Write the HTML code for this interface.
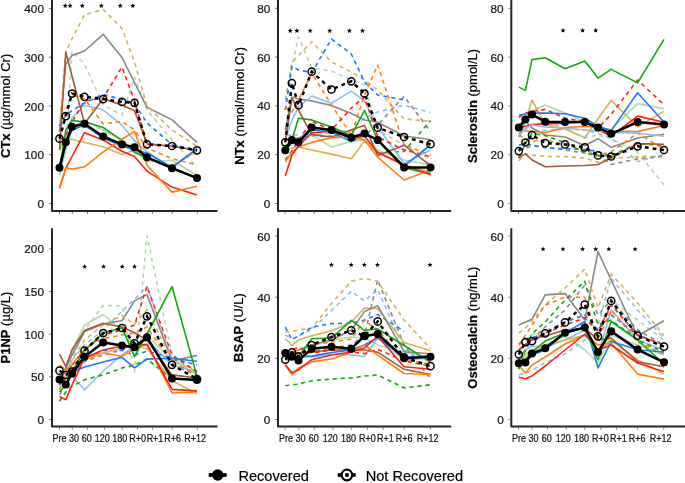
<!DOCTYPE html><html><head><meta charset="utf-8"><style>html,body{margin:0;padding:0;background:#fff;}svg{display:block;will-change:transform;}text{font-family:"Liberation Sans",sans-serif;stroke:currentColor;stroke-width:0.2px;}</style></head><body>
<svg width="685" height="483" viewBox="0 0 685 483">
<rect width="685" height="483" fill="#fff"/>
<path d="M52,0 L52,211 L217.5,211" fill="none" stroke="#262626" stroke-width="2" stroke-linejoin="round"/>
<line x1="49" y1="203.5" x2="51" y2="203.5" stroke="#555" stroke-width="0.8"/>
<text x="44" y="208.0" font-size="11.8" text-anchor="end" fill="#111" color="#111">0</text>
<line x1="49" y1="154.7" x2="51" y2="154.7" stroke="#555" stroke-width="0.8"/>
<text x="44" y="159.2" font-size="11.8" text-anchor="end" fill="#111" color="#111">100</text>
<line x1="49" y1="106.0" x2="51" y2="106.0" stroke="#555" stroke-width="0.8"/>
<text x="44" y="110.5" font-size="11.8" text-anchor="end" fill="#111" color="#111">200</text>
<line x1="49" y1="57.2" x2="51" y2="57.2" stroke="#555" stroke-width="0.8"/>
<text x="44" y="61.7" font-size="11.8" text-anchor="end" fill="#111" color="#111">300</text>
<line x1="49" y1="8.4" x2="51" y2="8.4" stroke="#555" stroke-width="0.8"/>
<text x="44" y="12.9" font-size="11.8" text-anchor="end" fill="#111" color="#111">400</text>
<line x1="59.5" y1="212" x2="59.5" y2="214" stroke="#555" stroke-width="0.8"/>
<line x1="72.3" y1="212" x2="72.3" y2="214" stroke="#555" stroke-width="0.8"/>
<line x1="87.5" y1="212" x2="87.5" y2="214" stroke="#555" stroke-width="0.8"/>
<line x1="104.6" y1="212" x2="104.6" y2="214" stroke="#555" stroke-width="0.8"/>
<line x1="122.2" y1="212" x2="122.2" y2="214" stroke="#555" stroke-width="0.8"/>
<line x1="137.5" y1="212" x2="137.5" y2="214" stroke="#555" stroke-width="0.8"/>
<line x1="152.4" y1="212" x2="152.4" y2="214" stroke="#555" stroke-width="0.8"/>
<line x1="172.3" y1="212" x2="172.3" y2="214" stroke="#555" stroke-width="0.8"/>
<line x1="197.4" y1="212" x2="197.4" y2="214" stroke="#555" stroke-width="0.8"/>
<text transform="translate(10.0,105.9) rotate(-90)" font-size="13" text-anchor="middle" fill="#000" color="#000"><tspan font-weight="bold">CTx</tspan> (µg/mmol Cr)</text>
<polyline points="59.5,175.0 65.8,145.0 72.0,51.0 84.5,64.0 103.2,105.0 122.0,115.0 134.5,77.0 147.0,110.0 172.0,140.0 197.0,167.0" fill="none" stroke="#b2d8ac" stroke-width="1.6" stroke-dasharray="4.2 3.8" stroke-linejoin="round"/>
<polyline points="59.5,175.0 65.8,150.0 72.0,128.0 84.5,120.0 103.2,130.0 122.0,140.0 134.5,150.0 147.0,161.7 172.0,160.3 197.0,175.5" fill="none" stroke="#b2d8ac" stroke-width="1.6" stroke-linejoin="round"/>
<polyline points="59.5,150.0 65.8,135.0 72.0,118.0 84.5,105.3 103.2,110.0 122.0,125.2 134.5,140.7 147.0,152.0 172.0,168.0 197.0,178.0" fill="none" stroke="#8cc0ec" stroke-width="1.6" stroke-linejoin="round"/>
<polyline points="59.5,150.0 65.8,138.2 72.0,139.5 84.5,142.5 103.2,146.8 122.0,154.5 134.5,150.0 147.0,158.0 172.0,166.0 197.0,151.0" fill="none" stroke="#d6b450" stroke-width="1.6" stroke-linejoin="round"/>
<polyline points="59.5,132.0 65.8,64.0 72.0,55.5 84.5,51.0 103.2,34.3 122.0,57.5 134.5,82.6 147.0,107.3 172.0,119.9 197.0,142.4" fill="none" stroke="#888888" stroke-width="1.6" stroke-linejoin="round"/>
<polyline points="59.5,127.0 65.8,51.7 72.0,39.0 84.5,14.7 103.2,9.5 122.0,28.5 134.5,62.0 147.0,106.0 172.0,130.0 197.0,146.3" fill="none" stroke="#d6b450" stroke-width="1.6" stroke-dasharray="4.2 3.8" stroke-linejoin="round"/>
<polyline points="59.5,150.0 65.8,52.1 72.0,76.0 84.5,123.5 103.2,98.8 122.0,105.0 134.5,110.7 147.0,143.8 172.0,146.3 197.0,150.2" fill="none" stroke="#a55a32" stroke-width="1.6" stroke-linejoin="round"/>
<polyline points="59.5,140.0 65.8,135.0 72.0,122.0 84.5,101.0 103.2,98.0 122.0,67.0 134.5,101.0 147.0,144.5 172.0,146.5 197.0,150.5" fill="none" stroke="#ff2010" stroke-width="1.6" stroke-dasharray="4.2 3.8" stroke-linejoin="round"/>
<polyline points="59.5,126.0 65.8,115.0 72.0,110.7 84.5,103.0 103.2,94.4 122.0,99.5 134.5,103.4 147.0,123.0 172.0,144.7 197.0,150.0" fill="none" stroke="#1a7aff" stroke-width="1.6" stroke-dasharray="4.2 3.8" stroke-linejoin="round"/>
<polyline points="59.5,140.0 65.8,110.0 72.0,95.0 84.5,98.7 103.2,123.8 122.0,121.5 134.5,130.0 147.0,148.0 172.0,158.7 197.0,165.0" fill="none" stroke="#ff8010" stroke-width="1.6" stroke-dasharray="4.2 3.8" stroke-linejoin="round"/>
<polyline points="59.5,170.0 65.8,130.0 72.0,120.6 84.5,121.7 103.2,127.5 122.0,140.3 134.5,152.3 147.0,158.0 172.0,168.0 197.0,178.0" fill="none" stroke="#10aa10" stroke-width="1.6" stroke-linejoin="round"/>
<polyline points="59.5,170.0 65.8,145.0 72.0,130.0 84.5,125.0 103.2,138.0 122.0,146.0 134.5,150.0 147.0,153.0 172.0,167.5 197.0,148.7" fill="none" stroke="#1a7aff" stroke-width="1.6" stroke-linejoin="round"/>
<polyline points="59.5,188.0 65.8,168.4 72.0,156.5 84.5,132.7 103.2,140.0 122.0,151.2 134.5,156.6 147.0,171.1 172.0,187.1 197.0,195.0" fill="none" stroke="#ff2010" stroke-width="1.6" stroke-linejoin="round"/>
<polyline points="59.5,188.5 65.8,167.6 72.0,169.1 84.5,166.8 103.2,151.8 122.0,139.2 134.5,131.4 147.0,165.3 172.0,192.1 197.0,186.3" fill="none" stroke="#ff8010" stroke-width="1.6" stroke-linejoin="round"/>
<polyline points="59.5,138.7 65.8,116.2 72.0,93.6 84.5,96.8 103.2,99.1 122.0,101.9 134.5,102.8 147.0,144.3 172.0,146.0 197.0,150.3" fill="none" stroke="#000" stroke-width="2.5" stroke-dasharray="3.8 4"/>
<polyline points="59.5,167.7 65.8,142.2 72.0,126.8 84.5,123.8 103.2,136.5 122.0,144.4 134.5,147.2 147.0,157.3 172.0,168.2 197.0,178.1" fill="none" stroke="#000" stroke-width="2.5" stroke-linejoin="round"/>
<circle cx="59.5" cy="138.7" r="3.6" fill="none" stroke="#000" stroke-width="1.5"/>
<circle cx="65.8" cy="116.2" r="3.6" fill="none" stroke="#000" stroke-width="1.5"/>
<circle cx="72.0" cy="93.6" r="3.6" fill="none" stroke="#000" stroke-width="1.5"/>
<circle cx="84.5" cy="96.8" r="3.6" fill="none" stroke="#000" stroke-width="1.5"/>
<circle cx="103.2" cy="99.1" r="3.6" fill="none" stroke="#000" stroke-width="1.5"/>
<circle cx="122.0" cy="101.9" r="3.6" fill="none" stroke="#000" stroke-width="1.5"/>
<circle cx="134.5" cy="102.8" r="3.6" fill="none" stroke="#000" stroke-width="1.5"/>
<circle cx="147.0" cy="144.3" r="3.6" fill="none" stroke="#000" stroke-width="1.5"/>
<circle cx="172.0" cy="146.0" r="3.6" fill="none" stroke="#000" stroke-width="1.5"/>
<circle cx="197.0" cy="150.3" r="3.6" fill="none" stroke="#000" stroke-width="1.5"/>
<circle cx="59.5" cy="167.7" r="4.0" fill="#000"/>
<circle cx="65.8" cy="142.2" r="4.0" fill="#000"/>
<circle cx="72.0" cy="126.8" r="4.0" fill="#000"/>
<circle cx="84.5" cy="123.8" r="4.0" fill="#000"/>
<circle cx="103.2" cy="136.5" r="4.0" fill="#000"/>
<circle cx="122.0" cy="144.4" r="4.0" fill="#000"/>
<circle cx="134.5" cy="147.2" r="4.0" fill="#000"/>
<circle cx="147.0" cy="157.3" r="4.0" fill="#000"/>
<circle cx="172.0" cy="168.2" r="4.0" fill="#000"/>
<circle cx="197.0" cy="178.1" r="4.0" fill="#000"/>
<polygon points="65.20,3.20 65.88,4.87 67.67,5.00 66.29,6.16 66.73,7.90 65.20,6.95 63.67,7.90 64.11,6.16 62.73,5.00 64.52,4.87" fill="#000"/>
<polygon points="70.10,3.20 70.78,4.87 72.57,5.00 71.19,6.16 71.63,7.90 70.10,6.95 68.57,7.90 69.01,6.16 67.63,5.00 69.42,4.87" fill="#000"/>
<polygon points="82.30,3.20 82.98,4.87 84.77,5.00 83.39,6.16 83.83,7.90 82.30,6.95 80.77,7.90 81.21,6.16 79.83,5.00 81.62,4.87" fill="#000"/>
<polygon points="101.30,3.20 101.98,4.87 103.77,5.00 102.39,6.16 102.83,7.90 101.30,6.95 99.77,7.90 100.21,6.16 98.83,5.00 100.62,4.87" fill="#000"/>
<polygon points="120.30,3.20 120.98,4.87 122.77,5.00 121.39,6.16 121.83,7.90 120.30,6.95 118.77,7.90 119.21,6.16 117.83,5.00 119.62,4.87" fill="#000"/>
<polygon points="132.80,3.20 133.48,4.87 135.27,5.00 133.89,6.16 134.33,7.90 132.80,6.95 131.27,7.90 131.71,6.16 130.33,5.00 132.12,4.87" fill="#000"/>
<path d="M278,0 L278,211 L451.2,211" fill="none" stroke="#262626" stroke-width="2" stroke-linejoin="round"/>
<line x1="275" y1="203.5" x2="277" y2="203.5" stroke="#555" stroke-width="0.8"/>
<text x="270.3" y="208.0" font-size="11.8" text-anchor="end" fill="#111" color="#111">0</text>
<line x1="275" y1="154.7" x2="277" y2="154.7" stroke="#555" stroke-width="0.8"/>
<text x="270.3" y="159.2" font-size="11.8" text-anchor="end" fill="#111" color="#111">20</text>
<line x1="275" y1="105.9" x2="277" y2="105.9" stroke="#555" stroke-width="0.8"/>
<text x="270.3" y="110.4" font-size="11.8" text-anchor="end" fill="#111" color="#111">40</text>
<line x1="275" y1="57.1" x2="277" y2="57.1" stroke="#555" stroke-width="0.8"/>
<text x="270.3" y="61.6" font-size="11.8" text-anchor="end" fill="#111" color="#111">60</text>
<line x1="275" y1="8.3" x2="277" y2="8.3" stroke="#555" stroke-width="0.8"/>
<text x="270.3" y="12.8" font-size="11.8" text-anchor="end" fill="#111" color="#111">80</text>
<line x1="285.2" y1="212" x2="285.2" y2="214" stroke="#555" stroke-width="0.8"/>
<line x1="298.9" y1="212" x2="298.9" y2="214" stroke="#555" stroke-width="0.8"/>
<line x1="314.3" y1="212" x2="314.3" y2="214" stroke="#555" stroke-width="0.8"/>
<line x1="333.0" y1="212" x2="333.0" y2="214" stroke="#555" stroke-width="0.8"/>
<line x1="351.4" y1="212" x2="351.4" y2="214" stroke="#555" stroke-width="0.8"/>
<line x1="367.5" y1="212" x2="367.5" y2="214" stroke="#555" stroke-width="0.8"/>
<line x1="383.2" y1="212" x2="383.2" y2="214" stroke="#555" stroke-width="0.8"/>
<line x1="404.3" y1="212" x2="404.3" y2="214" stroke="#555" stroke-width="0.8"/>
<line x1="430.4" y1="212" x2="430.4" y2="214" stroke="#555" stroke-width="0.8"/>
<text transform="translate(243.5,105.9) rotate(-90)" font-size="13" text-anchor="middle" fill="#000" color="#000"><tspan font-weight="bold">NTx</tspan> (nmol/mmol Cr)</text>
<polyline points="285.3,110.0 291.9,66.0 298.5,37.0 311.7,68.0 331.5,71.0 351.3,80.0 364.5,85.0 377.7,130.0 404.1,145.0 430.5,160.0" fill="none" stroke="#b2d8ac" stroke-width="1.6" stroke-dasharray="4.2 3.8" stroke-linejoin="round"/>
<polyline points="285.3,135.0 291.9,135.0 298.5,135.0 311.7,135.0 331.5,133.0 351.3,130.0 364.5,118.0 377.7,112.0 404.1,105.2 430.5,112.6" fill="none" stroke="#8cc0ec" stroke-width="1.6" stroke-dasharray="4.2 3.8" stroke-linejoin="round"/>
<polyline points="285.3,128.0 291.9,138.0 298.5,138.0 311.7,136.0 331.5,136.0 351.3,136.0 364.5,135.0 377.7,125.0 404.1,96.4 430.5,131.5" fill="none" stroke="#888888" stroke-width="1.6" stroke-dasharray="4.2 3.8" stroke-linejoin="round"/>
<polyline points="285.3,150.0 291.9,140.0 298.5,142.0 311.7,128.0 331.5,130.0 351.3,137.0 364.5,140.0 377.7,153.0 404.1,151.4 430.5,120.6" fill="none" stroke="#10aa10" stroke-width="1.6" stroke-dasharray="4.2 3.8" stroke-linejoin="round"/>
<polyline points="285.3,148.0 291.9,145.0 298.5,142.0 311.7,134.6 331.5,147.1 351.3,141.6 364.5,140.0 377.7,150.0 404.1,160.0 430.5,165.0" fill="none" stroke="#b2d8ac" stroke-width="1.6" stroke-linejoin="round"/>
<polyline points="285.3,150.0 291.9,148.0 298.5,147.0 311.7,150.0 331.5,154.1 351.3,158.7 364.5,140.9 377.7,152.0 404.1,165.0 430.5,172.0" fill="none" stroke="#d6b450" stroke-width="1.6" stroke-linejoin="round"/>
<polyline points="285.3,130.0 291.9,97.0 298.5,98.9 311.7,101.0 331.5,105.4 351.3,113.5 364.5,120.0 377.7,122.2 404.1,136.0 430.5,139.5" fill="none" stroke="#888888" stroke-width="1.6" stroke-linejoin="round"/>
<polyline points="285.3,140.0 291.9,120.0 298.5,107.0 311.7,96.0 331.5,103.2 351.3,91.1 364.5,101.0 377.7,127.0 404.1,163.4 430.5,150.0" fill="none" stroke="#8cc0ec" stroke-width="1.6" stroke-linejoin="round"/>
<polyline points="285.3,100.0 291.9,62.6 298.5,55.6 311.7,41.7 331.5,62.0 351.3,72.0 364.5,80.0 377.7,90.0 404.1,119.0 430.5,121.3" fill="none" stroke="#d6b450" stroke-width="1.6" stroke-dasharray="4.2 3.8" stroke-linejoin="round"/>
<polyline points="285.3,110.0 291.9,66.5 298.5,70.0 311.7,72.7 331.5,39.0 351.3,54.0 364.5,82.0 377.7,95.0 404.1,100.0" fill="none" stroke="#1a7aff" stroke-width="1.6" stroke-dasharray="4.2 3.8" stroke-linejoin="round"/>
<polyline points="285.3,107.0 291.9,112.0 298.5,100.0 311.7,73.0 331.5,105.0 351.3,135.0 364.5,95.0 377.7,65.0 404.1,145.0 430.5,155.0" fill="none" stroke="#ff8010" stroke-width="1.6" stroke-dasharray="4.2 3.8" stroke-linejoin="round"/>
<polyline points="285.3,160.0 291.9,151.0 298.5,140.0 311.7,121.4 331.5,130.0 351.3,108.0 364.5,97.0 377.7,137.0 404.1,150.0 430.5,156.6" fill="none" stroke="#ff2010" stroke-width="1.6" stroke-dasharray="4.2 3.8" stroke-linejoin="round"/>
<polyline points="285.3,141.6 291.9,98.1 298.5,110.0 311.7,134.6 331.5,137.0 351.3,130.0 364.5,125.3 377.7,155.6 404.1,145.2 430.5,165.7" fill="none" stroke="#a55a32" stroke-width="1.6" stroke-linejoin="round"/>
<polyline points="285.3,146.0 291.9,140.0 298.5,118.3 311.7,119.9 331.5,126.9 351.3,135.4 364.5,110.5 377.7,140.0 404.1,168.0 430.5,173.6" fill="none" stroke="#10aa10" stroke-width="1.6" stroke-linejoin="round"/>
<polyline points="285.3,150.0 291.9,142.0 298.5,144.0 311.7,130.0 331.5,132.0 351.3,141.6 364.5,135.0 377.7,140.0 404.1,166.0 430.5,145.0" fill="none" stroke="#1a7aff" stroke-width="1.6" stroke-linejoin="round"/>
<polyline points="285.3,161.8 291.9,152.5 298.5,147.0 311.7,142.4 331.5,137.7 351.3,137.0 364.5,140.0 377.7,157.2 404.1,180.0 430.5,170.0" fill="none" stroke="#ff8010" stroke-width="1.6" stroke-linejoin="round"/>
<polyline points="285.3,176.0 291.9,155.0 298.5,146.0 311.7,133.0 331.5,131.0 351.3,138.0 364.5,136.0 377.7,152.5 404.1,165.0 430.5,174.8" fill="none" stroke="#ff2010" stroke-width="1.6" stroke-linejoin="round"/>
<polyline points="285.3,142.3 291.9,83.1 298.5,105.2 311.7,71.7 331.5,89.5 351.3,81.3 364.5,93.5 377.7,127.7 404.1,137.0 430.5,144.2" fill="none" stroke="#000" stroke-width="2.5" stroke-dasharray="3.8 4"/>
<polyline points="285.3,150.3 291.9,140.0 298.5,142.3 311.7,127.5 331.5,130.0 351.3,137.5 364.5,133.5 377.7,139.9 404.1,167.4 430.5,167.4" fill="none" stroke="#000" stroke-width="2.5" stroke-linejoin="round"/>
<circle cx="285.3" cy="142.3" r="3.6" fill="none" stroke="#000" stroke-width="1.5"/>
<circle cx="291.9" cy="83.1" r="3.6" fill="none" stroke="#000" stroke-width="1.5"/>
<circle cx="298.5" cy="105.2" r="3.6" fill="none" stroke="#000" stroke-width="1.5"/>
<circle cx="311.7" cy="71.7" r="3.6" fill="none" stroke="#000" stroke-width="1.5"/>
<circle cx="331.5" cy="89.5" r="3.6" fill="none" stroke="#000" stroke-width="1.5"/>
<circle cx="351.3" cy="81.3" r="3.6" fill="none" stroke="#000" stroke-width="1.5"/>
<circle cx="364.5" cy="93.5" r="3.6" fill="none" stroke="#000" stroke-width="1.5"/>
<circle cx="377.7" cy="127.7" r="3.6" fill="none" stroke="#000" stroke-width="1.5"/>
<circle cx="404.1" cy="137.0" r="3.6" fill="none" stroke="#000" stroke-width="1.5"/>
<circle cx="430.5" cy="144.2" r="3.6" fill="none" stroke="#000" stroke-width="1.5"/>
<circle cx="285.3" cy="150.3" r="4.0" fill="#000"/>
<circle cx="291.9" cy="140.0" r="4.0" fill="#000"/>
<circle cx="298.5" cy="142.3" r="4.0" fill="#000"/>
<circle cx="311.7" cy="127.5" r="4.0" fill="#000"/>
<circle cx="331.5" cy="130.0" r="4.0" fill="#000"/>
<circle cx="351.3" cy="137.5" r="4.0" fill="#000"/>
<circle cx="364.5" cy="133.5" r="4.0" fill="#000"/>
<circle cx="377.7" cy="139.9" r="4.0" fill="#000"/>
<circle cx="404.1" cy="167.4" r="4.0" fill="#000"/>
<circle cx="430.5" cy="167.4" r="4.0" fill="#000"/>
<polygon points="290.20,28.20 290.88,29.87 292.67,30.00 291.29,31.16 291.73,32.90 290.20,31.95 288.67,32.90 289.11,31.16 287.73,30.00 289.52,29.87" fill="#000"/>
<polygon points="296.80,28.20 297.48,29.87 299.27,30.00 297.89,31.16 298.33,32.90 296.80,31.95 295.27,32.90 295.71,31.16 294.33,30.00 296.12,29.87" fill="#000"/>
<polygon points="310.20,28.20 310.88,29.87 312.67,30.00 311.29,31.16 311.73,32.90 310.20,31.95 308.67,32.90 309.11,31.16 307.73,30.00 309.52,29.87" fill="#000"/>
<polygon points="329.70,28.20 330.38,29.87 332.17,30.00 330.79,31.16 331.23,32.90 329.70,31.95 328.17,32.90 328.61,31.16 327.23,30.00 329.02,29.87" fill="#000"/>
<polygon points="349.40,28.20 350.08,29.87 351.87,30.00 350.49,31.16 350.93,32.90 349.40,31.95 347.87,32.90 348.31,31.16 346.93,30.00 348.72,29.87" fill="#000"/>
<polygon points="362.50,28.20 363.18,29.87 364.97,30.00 363.59,31.16 364.03,32.90 362.50,31.95 360.97,32.90 361.41,31.16 360.03,30.00 361.82,29.87" fill="#000"/>
<path d="M511.3,0 L511.3,211 L685,211" fill="none" stroke="#262626" stroke-width="2" stroke-linejoin="round"/>
<line x1="508.3" y1="203.5" x2="510.3" y2="203.5" stroke="#555" stroke-width="0.8"/>
<text x="503.7" y="208.0" font-size="11.8" text-anchor="end" fill="#111" color="#111">0</text>
<line x1="508.3" y1="154.7" x2="510.3" y2="154.7" stroke="#555" stroke-width="0.8"/>
<text x="503.7" y="159.2" font-size="11.8" text-anchor="end" fill="#111" color="#111">20</text>
<line x1="508.3" y1="105.9" x2="510.3" y2="105.9" stroke="#555" stroke-width="0.8"/>
<text x="503.7" y="110.4" font-size="11.8" text-anchor="end" fill="#111" color="#111">40</text>
<line x1="508.3" y1="57.1" x2="510.3" y2="57.1" stroke="#555" stroke-width="0.8"/>
<text x="503.7" y="61.6" font-size="11.8" text-anchor="end" fill="#111" color="#111">60</text>
<line x1="508.3" y1="8.3" x2="510.3" y2="8.3" stroke="#555" stroke-width="0.8"/>
<text x="503.7" y="12.8" font-size="11.8" text-anchor="end" fill="#111" color="#111">80</text>
<line x1="518.5" y1="212" x2="518.5" y2="214" stroke="#555" stroke-width="0.8"/>
<line x1="532.2" y1="212" x2="532.2" y2="214" stroke="#555" stroke-width="0.8"/>
<line x1="547.6" y1="212" x2="547.6" y2="214" stroke="#555" stroke-width="0.8"/>
<line x1="566.3" y1="212" x2="566.3" y2="214" stroke="#555" stroke-width="0.8"/>
<line x1="584.7" y1="212" x2="584.7" y2="214" stroke="#555" stroke-width="0.8"/>
<line x1="600.8" y1="212" x2="600.8" y2="214" stroke="#555" stroke-width="0.8"/>
<line x1="616.5" y1="212" x2="616.5" y2="214" stroke="#555" stroke-width="0.8"/>
<line x1="637.6" y1="212" x2="637.6" y2="214" stroke="#555" stroke-width="0.8"/>
<line x1="663.7" y1="212" x2="663.7" y2="214" stroke="#555" stroke-width="0.8"/>
<text transform="translate(476.7,105.9) rotate(-90)" font-size="13" text-anchor="middle" fill="#000" color="#000"><tspan font-weight="bold">Sclerostin</tspan> (pmol/L)</text>
<polyline points="518.8,135.0 525.4,130.0 532.0,125.0 545.2,122.0 565.0,128.0 584.8,138.0 598.0,135.0 611.2,138.7 637.6,152.0 664.0,185.0" fill="none" stroke="#b2d8ac" stroke-width="1.6" stroke-dasharray="4.2 3.8" stroke-linejoin="round"/>
<polyline points="518.8,125.0 525.4,120.0 532.0,111.0 545.2,105.1 565.0,113.0 584.8,122.0 598.0,128.0 611.2,129.5 637.6,103.6 664.0,108.8" fill="none" stroke="#b2d8ac" stroke-width="1.6" stroke-linejoin="round"/>
<polyline points="518.8,133.0 525.4,131.0 532.0,131.2 545.2,130.4 565.0,129.0 584.8,130.0 598.0,133.4 611.2,138.0 637.6,161.5 664.0,154.3" fill="none" stroke="#8cc0ec" stroke-width="1.6" stroke-dasharray="4.2 3.8" stroke-linejoin="round"/>
<polyline points="518.8,150.0 525.4,148.0 532.0,146.0 545.2,147.0 565.0,150.0 584.8,153.0 598.0,155.0 611.2,164.5 637.6,158.9 664.0,156.3" fill="none" stroke="#888888" stroke-width="1.6" stroke-dasharray="4.2 3.8" stroke-linejoin="round"/>
<polyline points="518.8,145.0 525.4,144.3 532.0,145.0 545.2,147.8 565.0,148.6 584.8,149.3 598.0,151.5 611.2,156.5" fill="none" stroke="#1a7aff" stroke-width="1.6" stroke-dasharray="4.2 3.8" stroke-linejoin="round"/>
<polyline points="518.8,160.9 525.4,154.3 532.0,155.0 545.2,156.5 565.0,156.6 584.8,158.0 598.0,162.4 611.2,158.3 637.6,156.9 664.0,155.5" fill="none" stroke="#d6b450" stroke-width="1.6" stroke-dasharray="4.2 3.8" stroke-linejoin="round"/>
<polyline points="518.8,137.0 525.4,121.0 532.0,128.0 545.2,135.0 565.0,137.0 584.8,145.7 598.0,138.7 611.2,147.4 637.6,138.0 664.0,134.3" fill="none" stroke="#888888" stroke-width="1.6" stroke-linejoin="round"/>
<polyline points="518.8,125.0 525.4,122.0 532.0,100.0 545.2,124.6 565.0,129.0 584.8,137.8 598.0,118.8 611.2,100.3 637.6,126.9 664.0,111.4" fill="none" stroke="#d6b450" stroke-width="1.6" stroke-linejoin="round"/>
<polyline points="518.8,130.0 525.4,131.0 532.0,131.2 545.2,132.6 565.0,127.6 584.8,126.2 598.0,127.0 611.2,131.0 637.6,131.6 664.0,125.4" fill="none" stroke="#ff8010" stroke-width="1.6" stroke-linejoin="round"/>
<polyline points="518.8,135.0 525.4,138.5 532.0,141.4 545.2,140.0 565.0,145.0 584.8,150.0 598.0,155.0 611.2,152.0 637.6,133.1 664.0,149.2" fill="none" stroke="#ff8010" stroke-width="1.6" stroke-dasharray="4.2 3.8" stroke-linejoin="round"/>
<polyline points="518.8,158.0 525.4,143.5 532.0,133.3 545.2,135.5 565.0,142.8 584.8,153.0 598.0,155.9 611.2,155.4 637.6,143.6 664.0,145.5" fill="none" stroke="#10aa10" stroke-width="1.6" stroke-dasharray="4.2 3.8" stroke-linejoin="round"/>
<polyline points="518.8,158.0 525.4,153.6 532.0,160.0 545.2,166.7 565.0,166.0 584.8,165.5 598.0,164.5 611.2,157.9 637.6,143.6 664.0,144.2" fill="none" stroke="#a55a32" stroke-width="1.6" stroke-linejoin="round"/>
<polyline points="518.8,117.4 525.4,113.0 532.0,111.7 545.2,109.4 565.0,118.0 584.8,122.0 598.0,128.0 611.2,114.3 637.6,80.0 664.0,104.7" fill="none" stroke="#ff2010" stroke-width="1.6" stroke-dasharray="4.2 3.8" stroke-linejoin="round"/>
<polyline points="518.8,115.2 525.4,114.0 532.0,113.1 545.2,113.0 565.0,113.8 584.8,118.2 598.0,126.2 611.2,130.6 637.6,92.8 664.0,122.3" fill="none" stroke="#1a7aff" stroke-width="1.6" stroke-linejoin="round"/>
<polyline points="518.8,128.3 525.4,126.2 532.0,124.6 545.2,123.9 565.0,123.3 584.8,122.0 598.0,130.0 611.2,136.0 637.6,116.1 664.0,122.3" fill="none" stroke="#ff2010" stroke-width="1.6" stroke-linejoin="round"/>
<polyline points="518.8,87.1 525.4,90.4 532.0,59.6 545.2,57.7 565.0,68.7 584.8,61.0 598.0,78.1 611.2,69.4 637.6,82.9 664.0,39.4" fill="none" stroke="#10aa10" stroke-width="1.6" stroke-linejoin="round"/>
<polyline points="518.8,136.0 525.4,128.0 532.0,125.0 545.2,127.0 565.0,128.0 584.8,130.0 598.0,131.0 611.2,132.5 637.6,133.1 664.0,136.2" fill="none" stroke="#8cc0ec" stroke-width="1.6" stroke-linejoin="round"/>
<polyline points="518.8,151.1 525.4,142.5 532.0,135.1 545.2,143.1 565.0,144.4 584.8,147.4 598.0,155.4 611.2,156.5 637.6,146.3 664.0,150.0" fill="none" stroke="#000" stroke-width="2.5" stroke-dasharray="3.8 4"/>
<polyline points="518.8,127.6 525.4,119.4 532.0,114.6 545.2,121.7 565.0,122.0 584.8,122.0 598.0,127.6 611.2,133.8 637.6,122.0 664.0,124.5" fill="none" stroke="#000" stroke-width="2.5" stroke-linejoin="round"/>
<circle cx="518.8" cy="151.1" r="3.6" fill="none" stroke="#000" stroke-width="1.5"/>
<circle cx="525.4" cy="142.5" r="3.6" fill="none" stroke="#000" stroke-width="1.5"/>
<circle cx="532.0" cy="135.1" r="3.6" fill="none" stroke="#000" stroke-width="1.5"/>
<circle cx="545.2" cy="143.1" r="3.6" fill="none" stroke="#000" stroke-width="1.5"/>
<circle cx="565.0" cy="144.4" r="3.6" fill="none" stroke="#000" stroke-width="1.5"/>
<circle cx="584.8" cy="147.4" r="3.6" fill="none" stroke="#000" stroke-width="1.5"/>
<circle cx="598.0" cy="155.4" r="3.6" fill="none" stroke="#000" stroke-width="1.5"/>
<circle cx="611.2" cy="156.5" r="3.6" fill="none" stroke="#000" stroke-width="1.5"/>
<circle cx="637.6" cy="146.3" r="3.6" fill="none" stroke="#000" stroke-width="1.5"/>
<circle cx="664.0" cy="150.0" r="3.6" fill="none" stroke="#000" stroke-width="1.5"/>
<circle cx="518.8" cy="127.6" r="4.0" fill="#000"/>
<circle cx="525.4" cy="119.4" r="4.0" fill="#000"/>
<circle cx="532.0" cy="114.6" r="4.0" fill="#000"/>
<circle cx="545.2" cy="121.7" r="4.0" fill="#000"/>
<circle cx="565.0" cy="122.0" r="4.0" fill="#000"/>
<circle cx="584.8" cy="122.0" r="4.0" fill="#000"/>
<circle cx="598.0" cy="127.6" r="4.0" fill="#000"/>
<circle cx="611.2" cy="133.8" r="4.0" fill="#000"/>
<circle cx="637.6" cy="122.0" r="4.0" fill="#000"/>
<circle cx="664.0" cy="124.5" r="4.0" fill="#000"/>
<polygon points="563.00,27.90 563.68,29.57 565.47,29.70 564.09,30.86 564.53,32.60 563.00,31.65 561.47,32.60 561.91,30.86 560.53,29.70 562.32,29.57" fill="#000"/>
<polygon points="582.60,27.90 583.28,29.57 585.07,29.70 583.69,30.86 584.13,32.60 582.60,31.65 581.07,32.60 581.51,30.86 580.13,29.70 581.92,29.57" fill="#000"/>
<polygon points="595.70,27.90 596.38,29.57 598.17,29.70 596.79,30.86 597.23,32.60 595.70,31.65 594.17,32.60 594.61,30.86 593.23,29.70 595.02,29.57" fill="#000"/>
<path d="M52,228.3 L52,426.6 L217.5,426.6" fill="none" stroke="#262626" stroke-width="2" stroke-linejoin="round"/>
<line x1="49" y1="419.5" x2="51" y2="419.5" stroke="#555" stroke-width="0.8"/>
<text x="44" y="424.0" font-size="11.8" text-anchor="end" fill="#111" color="#111">0</text>
<line x1="49" y1="376.8" x2="51" y2="376.8" stroke="#555" stroke-width="0.8"/>
<text x="44" y="381.3" font-size="11.8" text-anchor="end" fill="#111" color="#111">50</text>
<line x1="49" y1="334.1" x2="51" y2="334.1" stroke="#555" stroke-width="0.8"/>
<text x="44" y="338.6" font-size="11.8" text-anchor="end" fill="#111" color="#111">100</text>
<line x1="49" y1="291.5" x2="51" y2="291.5" stroke="#555" stroke-width="0.8"/>
<text x="44" y="296.0" font-size="11.8" text-anchor="end" fill="#111" color="#111">150</text>
<line x1="49" y1="248.8" x2="51" y2="248.8" stroke="#555" stroke-width="0.8"/>
<text x="44" y="253.3" font-size="11.8" text-anchor="end" fill="#111" color="#111">200</text>
<line x1="59.5" y1="427.6" x2="59.5" y2="429.6" stroke="#555" stroke-width="0.8"/>
<line x1="72.3" y1="427.6" x2="72.3" y2="429.6" stroke="#555" stroke-width="0.8"/>
<line x1="87.5" y1="427.6" x2="87.5" y2="429.6" stroke="#555" stroke-width="0.8"/>
<line x1="104.6" y1="427.6" x2="104.6" y2="429.6" stroke="#555" stroke-width="0.8"/>
<line x1="122.2" y1="427.6" x2="122.2" y2="429.6" stroke="#555" stroke-width="0.8"/>
<line x1="137.5" y1="427.6" x2="137.5" y2="429.6" stroke="#555" stroke-width="0.8"/>
<line x1="152.4" y1="427.6" x2="152.4" y2="429.6" stroke="#555" stroke-width="0.8"/>
<line x1="172.3" y1="427.6" x2="172.3" y2="429.6" stroke="#555" stroke-width="0.8"/>
<line x1="197.4" y1="427.6" x2="197.4" y2="429.6" stroke="#555" stroke-width="0.8"/>
<text transform="translate(10.0,327.6) rotate(-90)" font-size="13" text-anchor="middle" fill="#000" color="#000"><tspan font-weight="bold">P1NP</tspan> (µg/L)</text>
<text transform="translate(59.6,441.8) scale(1,1.12)" font-size="9" text-anchor="middle" fill="#111" color="#111">Pre</text>
<text transform="translate(74.0,441.8) scale(1,1.12)" font-size="9" text-anchor="middle" fill="#111" color="#111">30</text>
<text transform="translate(86.8,441.8) scale(1,1.12)" font-size="9" text-anchor="middle" fill="#111" color="#111">60</text>
<text transform="translate(102.3,441.8) scale(1,1.12)" font-size="9" text-anchor="middle" fill="#111" color="#111">120</text>
<text transform="translate(119.8,441.8) scale(1,1.12)" font-size="9" text-anchor="middle" fill="#111" color="#111">180</text>
<text transform="translate(137.7,441.8) scale(1,1.12)" font-size="9" text-anchor="middle" fill="#111" color="#111">R+0</text>
<text transform="translate(155.0,441.8) scale(1,1.12)" font-size="9" text-anchor="middle" fill="#111" color="#111">R+1</text>
<text transform="translate(172.7,441.8) scale(1,1.12)" font-size="9" text-anchor="middle" fill="#111" color="#111">R+6</text>
<text transform="translate(195.2,441.8) scale(1,1.12)" font-size="9" text-anchor="middle" fill="#111" color="#111">R+12</text>
<polyline points="59.5,375.0 65.8,370.0 72.0,360.0 84.5,330.0 103.2,305.5 122.0,306.0 134.5,372.0 147.0,235.8 172.0,355.0 197.0,372.0" fill="none" stroke="#b2d8ac" stroke-width="1.6" stroke-dasharray="4.2 3.8" stroke-linejoin="round"/>
<polyline points="59.5,375.0 65.8,368.0 72.0,350.0 84.5,325.0 103.2,314.5 122.0,330.0 134.5,345.0 147.0,335.8 172.0,360.0 197.0,375.0" fill="none" stroke="#b2d8ac" stroke-width="1.6" stroke-linejoin="round"/>
<polyline points="59.5,380.0 65.8,372.0 72.0,360.0 84.5,345.0 103.2,330.0 122.0,311.1 134.5,299.5 147.0,286.4 172.0,360.0 197.0,370.6" fill="none" stroke="#8cc0ec" stroke-width="1.6" stroke-dasharray="4.2 3.8" stroke-linejoin="round"/>
<polyline points="59.5,394.7 65.8,385.0 72.0,375.0 84.5,361.5 103.2,355.0 122.0,350.0 134.5,345.0 147.0,340.0 172.0,365.0 197.0,375.0" fill="none" stroke="#888888" stroke-width="1.6" stroke-dasharray="4.2 3.8" stroke-linejoin="round"/>
<polyline points="59.5,380.0 65.8,378.0 72.0,376.0 84.5,389.7 103.2,371.0 122.0,355.0 134.5,345.0 147.0,340.0 172.0,365.0 197.0,372.0" fill="none" stroke="#8cc0ec" stroke-width="1.6" stroke-linejoin="round"/>
<polyline points="59.5,385.0 65.8,368.2 72.0,355.0 84.5,331.5 103.2,324.1 122.0,320.5 134.5,300.9 147.0,294.4 172.0,361.2 197.0,355.4" fill="none" stroke="#888888" stroke-width="1.6" stroke-linejoin="round"/>
<polyline points="59.5,385.0 65.8,375.0 72.0,360.0 84.5,340.0 103.2,325.0 122.0,315.4 134.5,324.1 147.0,309.6 172.0,360.0 197.0,372.0" fill="none" stroke="#d6b450" stroke-width="1.6" stroke-dasharray="4.2 3.8" stroke-linejoin="round"/>
<polyline points="59.5,383.0 65.8,378.0 72.0,374.0 84.5,358.0 103.2,350.5 122.0,350.4 134.5,355.0 147.0,351.2 172.0,358.0 197.0,365.0" fill="none" stroke="#1a7aff" stroke-width="1.6" stroke-dasharray="4.2 3.8" stroke-linejoin="round"/>
<polyline points="59.5,389.7 65.8,375.0 72.0,365.0 84.5,348.0 103.2,338.6 122.0,335.0 134.5,333.0 147.0,327.0 172.0,363.3 197.0,373.5" fill="none" stroke="#ff8010" stroke-width="1.6" stroke-dasharray="4.2 3.8" stroke-linejoin="round"/>
<polyline points="59.5,401.3 65.8,392.0 72.0,386.4 84.5,379.8 103.2,374.8 122.0,368.0 134.5,365.0 147.0,359.0 172.0,379.3 197.0,378.0" fill="none" stroke="#10aa10" stroke-width="1.6" stroke-dasharray="4.2 3.8" stroke-linejoin="round"/>
<polyline points="59.5,354.1 65.8,366.5 72.0,350.0 84.5,330.4 103.2,323.2 122.0,327.0 134.5,332.8 147.0,340.0 172.0,374.9 197.0,378.0" fill="none" stroke="#a55a32" stroke-width="1.6" stroke-linejoin="round"/>
<polyline points="59.5,385.0 65.8,378.0 72.0,365.0 84.5,350.0 103.2,335.0 122.0,330.0 134.5,325.0 147.0,286.4 172.0,355.0 197.0,372.0" fill="none" stroke="#ff2010" stroke-width="1.6" stroke-dasharray="4.2 3.8" stroke-linejoin="round"/>
<polyline points="59.5,385.0 65.8,378.0 72.0,372.0 84.5,367.0 103.2,362.0 122.0,357.3 134.5,367.8 147.0,359.1 172.0,358.3 197.0,361.2" fill="none" stroke="#1a7aff" stroke-width="1.6" stroke-linejoin="round"/>
<polyline points="59.5,364.9 65.8,370.0 72.0,365.0 84.5,358.0 103.2,353.0 122.0,356.3 134.5,348.4 147.0,344.2 172.0,393.0 197.0,392.0" fill="none" stroke="#ff8010" stroke-width="1.6" stroke-linejoin="round"/>
<polyline points="59.5,375.0 65.8,378.0 72.0,370.0 84.5,360.0 103.2,353.0 122.0,348.0 134.5,346.0 147.0,348.8 172.0,380.7 197.0,393.8" fill="none" stroke="#d6b450" stroke-width="1.6" stroke-linejoin="round"/>
<polyline points="59.5,396.4 65.8,399.7 72.0,384.8 84.5,358.0 103.2,350.0 122.0,346.0 134.5,345.0 147.0,344.5 172.0,389.4 197.0,390.9" fill="none" stroke="#ff2010" stroke-width="1.6" stroke-linejoin="round"/>
<polyline points="59.5,392.0 65.8,385.0 72.0,372.0 84.5,350.5 103.2,333.0 122.0,327.8 134.5,356.6 147.0,334.0 172.0,286.5 197.0,376.4" fill="none" stroke="#10aa10" stroke-width="1.6" stroke-linejoin="round"/>
<polyline points="59.5,370.7 65.8,375.0 72.0,371.5 84.5,350.5 103.2,333.1 122.0,328.0 134.5,343.3 147.0,316.3 172.0,364.8 197.0,379.0" fill="none" stroke="#000" stroke-width="2.5" stroke-dasharray="3.8 4"/>
<polyline points="59.5,379.5 65.8,384.5 72.0,373.5 84.5,356.7 103.2,342.4 122.0,345.5 134.5,347.3 147.0,337.3 172.0,378.5 197.0,379.9" fill="none" stroke="#000" stroke-width="2.5" stroke-linejoin="round"/>
<circle cx="59.5" cy="370.7" r="3.6" fill="none" stroke="#000" stroke-width="1.5"/>
<circle cx="65.8" cy="375.0" r="3.6" fill="none" stroke="#000" stroke-width="1.5"/>
<circle cx="72.0" cy="371.5" r="3.6" fill="none" stroke="#000" stroke-width="1.5"/>
<circle cx="84.5" cy="350.5" r="3.6" fill="none" stroke="#000" stroke-width="1.5"/>
<circle cx="103.2" cy="333.1" r="3.6" fill="none" stroke="#000" stroke-width="1.5"/>
<circle cx="122.0" cy="328.0" r="3.6" fill="none" stroke="#000" stroke-width="1.5"/>
<circle cx="134.5" cy="343.3" r="3.6" fill="none" stroke="#000" stroke-width="1.5"/>
<circle cx="147.0" cy="316.3" r="3.6" fill="none" stroke="#000" stroke-width="1.5"/>
<circle cx="172.0" cy="364.8" r="3.6" fill="none" stroke="#000" stroke-width="1.5"/>
<circle cx="197.0" cy="379.0" r="3.6" fill="none" stroke="#000" stroke-width="1.5"/>
<circle cx="59.5" cy="379.5" r="4.0" fill="#000"/>
<circle cx="65.8" cy="384.5" r="4.0" fill="#000"/>
<circle cx="72.0" cy="373.5" r="4.0" fill="#000"/>
<circle cx="84.5" cy="356.7" r="4.0" fill="#000"/>
<circle cx="103.2" cy="342.4" r="4.0" fill="#000"/>
<circle cx="122.0" cy="345.5" r="4.0" fill="#000"/>
<circle cx="134.5" cy="347.3" r="4.0" fill="#000"/>
<circle cx="147.0" cy="337.3" r="4.0" fill="#000"/>
<circle cx="172.0" cy="378.5" r="4.0" fill="#000"/>
<circle cx="197.0" cy="379.9" r="4.0" fill="#000"/>
<polygon points="84.60,264.10 85.28,265.77 87.07,265.90 85.69,267.06 86.13,268.80 84.60,267.85 83.07,268.80 83.51,267.06 82.13,265.90 83.92,265.77" fill="#000"/>
<polygon points="103.50,264.10 104.18,265.77 105.97,265.90 104.59,267.06 105.03,268.80 103.50,267.85 101.97,268.80 102.41,267.06 101.03,265.90 102.82,265.77" fill="#000"/>
<polygon points="122.20,264.10 122.88,265.77 124.67,265.90 123.29,267.06 123.73,268.80 122.20,267.85 120.67,268.80 121.11,267.06 119.73,265.90 121.52,265.77" fill="#000"/>
<polygon points="134.50,264.10 135.18,265.77 136.97,265.90 135.59,267.06 136.03,268.80 134.50,267.85 132.97,268.80 133.41,267.06 132.03,265.90 133.82,265.77" fill="#000"/>
<path d="M278,228.3 L278,426.6 L451.2,426.6" fill="none" stroke="#262626" stroke-width="2" stroke-linejoin="round"/>
<line x1="275" y1="419.5" x2="277" y2="419.5" stroke="#555" stroke-width="0.8"/>
<text x="270.3" y="424.0" font-size="11.8" text-anchor="end" fill="#111" color="#111">0</text>
<line x1="275" y1="358.3" x2="277" y2="358.3" stroke="#555" stroke-width="0.8"/>
<text x="270.3" y="362.8" font-size="11.8" text-anchor="end" fill="#111" color="#111">20</text>
<line x1="275" y1="297.2" x2="277" y2="297.2" stroke="#555" stroke-width="0.8"/>
<text x="270.3" y="301.7" font-size="11.8" text-anchor="end" fill="#111" color="#111">40</text>
<line x1="275" y1="236.0" x2="277" y2="236.0" stroke="#555" stroke-width="0.8"/>
<text x="270.3" y="240.5" font-size="11.8" text-anchor="end" fill="#111" color="#111">60</text>
<line x1="285.2" y1="427.6" x2="285.2" y2="429.6" stroke="#555" stroke-width="0.8"/>
<line x1="298.9" y1="427.6" x2="298.9" y2="429.6" stroke="#555" stroke-width="0.8"/>
<line x1="314.3" y1="427.6" x2="314.3" y2="429.6" stroke="#555" stroke-width="0.8"/>
<line x1="333.0" y1="427.6" x2="333.0" y2="429.6" stroke="#555" stroke-width="0.8"/>
<line x1="351.4" y1="427.6" x2="351.4" y2="429.6" stroke="#555" stroke-width="0.8"/>
<line x1="367.5" y1="427.6" x2="367.5" y2="429.6" stroke="#555" stroke-width="0.8"/>
<line x1="383.2" y1="427.6" x2="383.2" y2="429.6" stroke="#555" stroke-width="0.8"/>
<line x1="404.3" y1="427.6" x2="404.3" y2="429.6" stroke="#555" stroke-width="0.8"/>
<line x1="430.4" y1="427.6" x2="430.4" y2="429.6" stroke="#555" stroke-width="0.8"/>
<text transform="translate(243.3,327.6) rotate(-90)" font-size="13" text-anchor="middle" fill="#000" color="#000"><tspan font-weight="bold">BSAP</tspan> (U/L)</text>
<text transform="translate(286.0,441.8) scale(1,1.12)" font-size="9" text-anchor="middle" fill="#111" color="#111">Pre</text>
<text transform="translate(300.6,441.8) scale(1,1.12)" font-size="9" text-anchor="middle" fill="#111" color="#111">30</text>
<text transform="translate(313.8,441.8) scale(1,1.12)" font-size="9" text-anchor="middle" fill="#111" color="#111">60</text>
<text transform="translate(330.2,441.8) scale(1,1.12)" font-size="9" text-anchor="middle" fill="#111" color="#111">120</text>
<text transform="translate(348.6,441.8) scale(1,1.12)" font-size="9" text-anchor="middle" fill="#111" color="#111">180</text>
<text transform="translate(367.4,441.8) scale(1,1.12)" font-size="9" text-anchor="middle" fill="#111" color="#111">R+0</text>
<text transform="translate(385.4,441.8) scale(1,1.12)" font-size="9" text-anchor="middle" fill="#111" color="#111">R+1</text>
<text transform="translate(404.1,441.8) scale(1,1.12)" font-size="9" text-anchor="middle" fill="#111" color="#111">R+6</text>
<text transform="translate(427.7,441.8) scale(1,1.12)" font-size="9" text-anchor="middle" fill="#111" color="#111">R+12</text>
<polyline points="285.3,355.0 291.9,352.0 298.5,350.0 311.7,345.0 331.5,340.0 351.3,337.0 364.5,338.0 377.7,345.0 404.1,352.0 430.5,358.0" fill="none" stroke="#b2d8ac" stroke-width="1.6" stroke-linejoin="round"/>
<polyline points="285.3,335.0 291.9,339.0 298.5,336.0 311.7,329.4 331.5,310.6 351.3,291.4 364.5,300.9 377.7,289.3 404.1,350.0 430.5,362.0" fill="none" stroke="#8cc0ec" stroke-width="1.6" stroke-dasharray="4.2 3.8" stroke-linejoin="round"/>
<polyline points="285.3,360.0 291.9,358.0 298.5,357.0 311.7,352.0 331.5,348.0 351.3,345.0 364.5,335.0 377.7,279.9 404.1,345.0 430.5,378.6" fill="none" stroke="#888888" stroke-width="1.6" stroke-dasharray="4.2 3.8" stroke-linejoin="round"/>
<polyline points="285.3,332.3 291.9,331.6 298.5,330.0 311.7,328.0 331.5,303.3 351.3,281.3 364.5,278.4 377.7,281.3 404.1,320.0 430.5,348.6" fill="none" stroke="#d6b450" stroke-width="1.6" stroke-dasharray="4.2 3.8" stroke-linejoin="round"/>
<polyline points="285.3,327.2 291.9,339.6 298.5,336.0 311.7,327.2 331.5,323.6 351.3,323.2 364.5,320.0 377.7,314.5 404.1,331.2" fill="none" stroke="#1a7aff" stroke-width="1.6" stroke-dasharray="4.2 3.8" stroke-linejoin="round"/>
<polyline points="285.3,358.0 291.9,356.0 298.5,355.0 311.7,357.0 331.5,354.0 351.3,355.0 364.5,356.5 377.7,338.0 404.1,360.0 430.5,358.0" fill="none" stroke="#8cc0ec" stroke-width="1.6" stroke-linejoin="round"/>
<polyline points="285.3,338.7 291.9,345.2 298.5,340.0 311.7,335.8 331.5,330.9 351.3,322.0 364.5,308.0 377.7,308.7 404.1,342.4 430.5,350.7" fill="none" stroke="#d6b450" stroke-width="1.6" stroke-linejoin="round"/>
<polyline points="285.3,355.0 291.9,352.0 298.5,350.0 311.7,345.0 331.5,340.0 351.3,330.0 364.5,311.6 377.7,305.8 404.1,351.7 430.5,353.8" fill="none" stroke="#888888" stroke-width="1.6" stroke-linejoin="round"/>
<polyline points="285.3,355.0 291.9,352.0 298.5,350.0 311.7,345.0 331.5,342.0 351.3,339.1 364.5,320.3 377.7,330.0 404.1,360.0 430.5,364.1" fill="none" stroke="#ff8010" stroke-width="1.6" stroke-dasharray="4.2 3.8" stroke-linejoin="round"/>
<polyline points="285.3,350.0 291.9,352.0 298.5,353.0 311.7,352.0 331.5,350.0 351.3,350.0 364.5,350.0 377.7,352.2 404.1,369.3 430.5,374.5" fill="none" stroke="#a55a32" stroke-width="1.6" stroke-linejoin="round"/>
<polyline points="285.3,352.0 291.9,350.0 298.5,347.4 311.7,353.2 331.5,350.0 351.3,352.0 364.5,353.6 377.7,349.3 404.1,360.9 430.5,366.2" fill="none" stroke="#ff2010" stroke-width="1.6" stroke-dasharray="4.2 3.8" stroke-linejoin="round"/>
<polyline points="285.3,385.8 291.9,385.0 298.5,384.0 311.7,380.7 331.5,379.0 351.3,378.0 364.5,376.0 377.7,375.0 404.1,387.9 430.5,384.8" fill="none" stroke="#10aa10" stroke-width="1.6" stroke-dasharray="4.2 3.8" stroke-linejoin="round"/>
<polyline points="285.3,355.0 291.9,356.0 298.5,357.0 311.7,356.1 331.5,352.5 351.3,350.0 364.5,345.0 377.7,337.7 404.1,357.2 430.5,355.9" fill="none" stroke="#1a7aff" stroke-width="1.6" stroke-linejoin="round"/>
<polyline points="285.3,364.8 291.9,374.9 298.5,368.0 311.7,361.9 331.5,359.0 351.3,352.2 364.5,345.0 377.7,355.1 404.1,373.5 430.5,374.5" fill="none" stroke="#ff8010" stroke-width="1.6" stroke-linejoin="round"/>
<polyline points="285.3,364.8 291.9,372.8 298.5,369.9 311.7,359.7 331.5,355.0 351.3,352.0 364.5,348.0 377.7,336.2 404.1,366.7 430.5,369.3" fill="none" stroke="#ff2010" stroke-width="1.6" stroke-linejoin="round"/>
<polyline points="285.3,358.0 291.9,356.0 298.5,356.8 311.7,338.7 331.5,338.0 351.3,320.3 364.5,330.4 377.7,329.0 404.1,345.5 430.5,362.0" fill="none" stroke="#10aa10" stroke-width="1.6" stroke-linejoin="round"/>
<polyline points="285.3,359.6 291.9,352.3 298.5,356.7 311.7,345.0 331.5,337.0 351.3,330.4 364.5,336.0 377.7,321.4 404.1,357.4 430.5,366.2" fill="none" stroke="#000" stroke-width="2.5" stroke-dasharray="3.8 4"/>
<polyline points="285.3,353.1 291.9,356.7 298.5,360.4 311.7,348.7 331.5,346.8 351.3,348.7 364.5,336.0 377.7,334.0 404.1,358.2 430.5,356.8" fill="none" stroke="#000" stroke-width="2.5" stroke-linejoin="round"/>
<circle cx="285.3" cy="359.6" r="3.6" fill="none" stroke="#000" stroke-width="1.5"/>
<circle cx="291.9" cy="352.3" r="3.6" fill="none" stroke="#000" stroke-width="1.5"/>
<circle cx="298.5" cy="356.7" r="3.6" fill="none" stroke="#000" stroke-width="1.5"/>
<circle cx="311.7" cy="345.0" r="3.6" fill="none" stroke="#000" stroke-width="1.5"/>
<circle cx="331.5" cy="337.0" r="3.6" fill="none" stroke="#000" stroke-width="1.5"/>
<circle cx="351.3" cy="330.4" r="3.6" fill="none" stroke="#000" stroke-width="1.5"/>
<circle cx="364.5" cy="336.0" r="3.6" fill="none" stroke="#000" stroke-width="1.5"/>
<circle cx="377.7" cy="321.4" r="3.6" fill="none" stroke="#000" stroke-width="1.5"/>
<circle cx="404.1" cy="357.4" r="3.6" fill="none" stroke="#000" stroke-width="1.5"/>
<circle cx="430.5" cy="366.2" r="3.6" fill="none" stroke="#000" stroke-width="1.5"/>
<circle cx="285.3" cy="353.1" r="4.0" fill="#000"/>
<circle cx="291.9" cy="356.7" r="4.0" fill="#000"/>
<circle cx="298.5" cy="360.4" r="4.0" fill="#000"/>
<circle cx="311.7" cy="348.7" r="4.0" fill="#000"/>
<circle cx="331.5" cy="346.8" r="4.0" fill="#000"/>
<circle cx="351.3" cy="348.7" r="4.0" fill="#000"/>
<circle cx="364.5" cy="336.0" r="4.0" fill="#000"/>
<circle cx="377.7" cy="334.0" r="4.0" fill="#000"/>
<circle cx="404.1" cy="358.2" r="4.0" fill="#000"/>
<circle cx="430.5" cy="356.8" r="4.0" fill="#000"/>
<polygon points="331.40,262.30 332.08,263.97 333.87,264.10 332.49,265.26 332.93,267.00 331.40,266.05 329.87,267.00 330.31,265.26 328.93,264.10 330.72,263.97" fill="#000"/>
<polygon points="351.20,262.30 351.88,263.97 353.67,264.10 352.29,265.26 352.73,267.00 351.20,266.05 349.67,267.00 350.11,265.26 348.73,264.10 350.52,263.97" fill="#000"/>
<polygon points="364.30,262.30 364.98,263.97 366.77,264.10 365.39,265.26 365.83,267.00 364.30,266.05 362.77,267.00 363.21,265.26 361.83,264.10 363.62,263.97" fill="#000"/>
<polygon points="377.50,262.30 378.18,263.97 379.97,264.10 378.59,265.26 379.03,267.00 377.50,266.05 375.97,267.00 376.41,265.26 375.03,264.10 376.82,263.97" fill="#000"/>
<polygon points="430.00,262.30 430.68,263.97 432.47,264.10 431.09,265.26 431.53,267.00 430.00,266.05 428.47,267.00 428.91,265.26 427.53,264.10 429.32,263.97" fill="#000"/>
<path d="M511.3,228.3 L511.3,426.6 L685,426.6" fill="none" stroke="#262626" stroke-width="2" stroke-linejoin="round"/>
<line x1="508.3" y1="419.5" x2="510.3" y2="419.5" stroke="#555" stroke-width="0.8"/>
<text x="503.7" y="424.0" font-size="11.8" text-anchor="end" fill="#111" color="#111">0</text>
<line x1="508.3" y1="358.3" x2="510.3" y2="358.3" stroke="#555" stroke-width="0.8"/>
<text x="503.7" y="362.8" font-size="11.8" text-anchor="end" fill="#111" color="#111">20</text>
<line x1="508.3" y1="297.2" x2="510.3" y2="297.2" stroke="#555" stroke-width="0.8"/>
<text x="503.7" y="301.7" font-size="11.8" text-anchor="end" fill="#111" color="#111">40</text>
<line x1="508.3" y1="236.0" x2="510.3" y2="236.0" stroke="#555" stroke-width="0.8"/>
<text x="503.7" y="240.5" font-size="11.8" text-anchor="end" fill="#111" color="#111">60</text>
<line x1="518.5" y1="427.6" x2="518.5" y2="429.6" stroke="#555" stroke-width="0.8"/>
<line x1="532.2" y1="427.6" x2="532.2" y2="429.6" stroke="#555" stroke-width="0.8"/>
<line x1="547.6" y1="427.6" x2="547.6" y2="429.6" stroke="#555" stroke-width="0.8"/>
<line x1="566.3" y1="427.6" x2="566.3" y2="429.6" stroke="#555" stroke-width="0.8"/>
<line x1="584.7" y1="427.6" x2="584.7" y2="429.6" stroke="#555" stroke-width="0.8"/>
<line x1="600.8" y1="427.6" x2="600.8" y2="429.6" stroke="#555" stroke-width="0.8"/>
<line x1="616.5" y1="427.6" x2="616.5" y2="429.6" stroke="#555" stroke-width="0.8"/>
<line x1="637.6" y1="427.6" x2="637.6" y2="429.6" stroke="#555" stroke-width="0.8"/>
<line x1="663.7" y1="427.6" x2="663.7" y2="429.6" stroke="#555" stroke-width="0.8"/>
<text transform="translate(476.6,327.6) rotate(-90)" font-size="13" text-anchor="middle" fill="#000" color="#000"><tspan font-weight="bold">Osteocalcin</tspan> (ng/mL)</text>
<text transform="translate(519.0,441.8) scale(1,1.12)" font-size="9" text-anchor="middle" fill="#111" color="#111">Pre</text>
<text transform="translate(533.6,441.8) scale(1,1.12)" font-size="9" text-anchor="middle" fill="#111" color="#111">30</text>
<text transform="translate(546.8,441.8) scale(1,1.12)" font-size="9" text-anchor="middle" fill="#111" color="#111">60</text>
<text transform="translate(563.2,441.8) scale(1,1.12)" font-size="9" text-anchor="middle" fill="#111" color="#111">120</text>
<text transform="translate(581.6,441.8) scale(1,1.12)" font-size="9" text-anchor="middle" fill="#111" color="#111">180</text>
<text transform="translate(600.4,441.8) scale(1,1.12)" font-size="9" text-anchor="middle" fill="#111" color="#111">R+0</text>
<text transform="translate(618.4,441.8) scale(1,1.12)" font-size="9" text-anchor="middle" fill="#111" color="#111">R+1</text>
<text transform="translate(637.1,441.8) scale(1,1.12)" font-size="9" text-anchor="middle" fill="#111" color="#111">R+6</text>
<text transform="translate(660.7,441.8) scale(1,1.12)" font-size="9" text-anchor="middle" fill="#111" color="#111">R+12</text>
<polyline points="518.8,345.0 525.4,340.0 532.0,335.0 545.2,330.0 565.0,325.0 584.8,318.0 598.0,330.0 611.2,300.0 637.6,320.0 664.0,340.0" fill="none" stroke="#b2d8ac" stroke-width="1.6" stroke-dasharray="4.2 3.8" stroke-linejoin="round"/>
<polyline points="518.8,362.0 525.4,358.0 532.0,352.0 545.2,345.0 565.0,336.0 584.8,350.0 598.0,363.0 611.2,335.0 637.6,345.0 664.0,355.0" fill="none" stroke="#b2d8ac" stroke-width="1.6" stroke-linejoin="round"/>
<polyline points="518.8,375.0 525.4,373.0 532.0,370.1 545.2,362.8 565.0,354.1 584.8,340.0 598.0,325.0 611.2,278.4 637.6,310.0 664.0,338.2" fill="none" stroke="#8cc0ec" stroke-width="1.6" stroke-dasharray="4.2 3.8" stroke-linejoin="round"/>
<polyline points="518.8,360.0 525.4,350.0 532.0,340.0 545.2,327.0 565.0,310.0 584.8,285.0 598.0,315.0 611.2,300.0 637.6,330.0 664.0,345.0" fill="none" stroke="#888888" stroke-width="1.6" stroke-dasharray="4.2 3.8" stroke-linejoin="round"/>
<polyline points="518.8,358.0 525.4,350.0 532.0,346.2 545.2,347.0 565.0,340.0 584.8,330.0 598.0,355.0 611.2,309.9 637.6,340.0 664.0,350.0" fill="none" stroke="#8cc0ec" stroke-width="1.6" stroke-linejoin="round"/>
<polyline points="518.8,325.1 525.4,322.0 532.0,319.3 545.2,294.9 565.0,293.6 584.8,320.0 598.0,251.6 611.2,280.0 637.6,336.0 664.0,320.8" fill="none" stroke="#888888" stroke-width="1.6" stroke-linejoin="round"/>
<polyline points="518.8,333.1 525.4,328.0 532.0,320.8 545.2,305.0 565.0,288.0 584.8,269.0 598.0,308.0 611.2,274.0 637.6,303.0 664.0,335.7" fill="none" stroke="#d6b450" stroke-width="1.6" stroke-dasharray="4.2 3.8" stroke-linejoin="round"/>
<polyline points="518.8,360.0 525.4,355.0 532.0,350.0 545.2,345.0 565.0,340.0 584.8,335.0 598.0,350.0 611.2,340.0 637.6,360.0 664.0,374.1" fill="none" stroke="#d6b450" stroke-width="1.6" stroke-linejoin="round"/>
<polyline points="518.8,344.0 525.4,340.0 532.0,338.0 545.2,333.0 565.0,322.0 584.8,315.0 598.0,330.0 611.2,315.0 637.6,335.0 664.0,345.0" fill="none" stroke="#1a7aff" stroke-width="1.6" stroke-dasharray="4.2 3.8" stroke-linejoin="round"/>
<polyline points="518.8,345.0 525.4,335.3 532.0,325.0 545.2,305.1 565.0,297.1 584.8,297.2 598.0,339.7 611.2,310.0 637.6,341.9 664.0,354.3" fill="none" stroke="#ff8010" stroke-width="1.6" stroke-dasharray="4.2 3.8" stroke-linejoin="round"/>
<polyline points="518.8,369.3 525.4,350.0 532.0,333.8 545.2,322.0 565.0,300.0 584.8,281.3 598.0,325.0 611.2,320.0 637.6,340.0 664.0,352.0" fill="none" stroke="#10aa10" stroke-width="1.6" stroke-dasharray="4.2 3.8" stroke-linejoin="round"/>
<polyline points="518.8,350.0 525.4,345.0 532.0,338.9 545.2,336.0 565.0,330.0 584.8,328.0 598.0,340.0 611.2,338.0 637.6,361.7 664.0,366.7" fill="none" stroke="#a55a32" stroke-width="1.6" stroke-linejoin="round"/>
<polyline points="518.8,350.0 525.4,345.0 532.0,340.0 545.2,333.0 565.0,325.0 584.8,318.0 598.0,331.4 611.2,304.9 637.6,335.0 664.0,345.0" fill="none" stroke="#ff2010" stroke-width="1.6" stroke-dasharray="4.2 3.8" stroke-linejoin="round"/>
<polyline points="518.8,364.0 525.4,360.0 532.0,355.0 545.2,350.0 565.0,333.0 584.8,321.5 598.0,367.9 611.2,341.4 637.6,349.7 664.0,352.0" fill="none" stroke="#1a7aff" stroke-width="1.6" stroke-linejoin="round"/>
<polyline points="518.8,365.7 525.4,373.0 532.0,365.0 545.2,357.0 565.0,344.0 584.8,335.0 598.0,345.0 611.2,343.0 637.6,374.1 664.0,379.1" fill="none" stroke="#ff8010" stroke-width="1.6" stroke-linejoin="round"/>
<polyline points="518.8,377.3 525.4,378.8 532.0,375.9 545.2,366.0 565.0,350.0 584.8,334.0 598.0,350.0 611.2,345.0 637.6,363.0 664.0,371.7" fill="none" stroke="#ff2010" stroke-width="1.6" stroke-linejoin="round"/>
<polyline points="518.8,368.0 525.4,360.0 532.0,352.0 545.2,341.1 565.0,333.0 584.8,328.0 598.0,359.6 611.2,321.5 637.6,340.0 664.0,364.0" fill="none" stroke="#10aa10" stroke-width="1.6" stroke-linejoin="round"/>
<polyline points="518.8,354.5 525.4,342.1 532.0,341.1 545.2,333.4 565.0,322.4 584.8,304.6 598.0,336.4 611.2,300.9 637.6,335.7 664.0,346.7" fill="none" stroke="#000" stroke-width="2.5" stroke-dasharray="3.8 4"/>
<polyline points="518.8,363.2 525.4,362.4 532.0,353.5 545.2,348.3 565.0,332.8 584.8,327.4 598.0,352.0 611.2,331.3 637.6,349.6 664.0,362.3" fill="none" stroke="#000" stroke-width="2.5" stroke-linejoin="round"/>
<circle cx="518.8" cy="354.5" r="3.6" fill="none" stroke="#000" stroke-width="1.5"/>
<circle cx="525.4" cy="342.1" r="3.6" fill="none" stroke="#000" stroke-width="1.5"/>
<circle cx="532.0" cy="341.1" r="3.6" fill="none" stroke="#000" stroke-width="1.5"/>
<circle cx="545.2" cy="333.4" r="3.6" fill="none" stroke="#000" stroke-width="1.5"/>
<circle cx="565.0" cy="322.4" r="3.6" fill="none" stroke="#000" stroke-width="1.5"/>
<circle cx="584.8" cy="304.6" r="3.6" fill="none" stroke="#000" stroke-width="1.5"/>
<circle cx="598.0" cy="336.4" r="3.6" fill="none" stroke="#000" stroke-width="1.5"/>
<circle cx="611.2" cy="300.9" r="3.6" fill="none" stroke="#000" stroke-width="1.5"/>
<circle cx="637.6" cy="335.7" r="3.6" fill="none" stroke="#000" stroke-width="1.5"/>
<circle cx="664.0" cy="346.7" r="3.6" fill="none" stroke="#000" stroke-width="1.5"/>
<circle cx="518.8" cy="363.2" r="4.0" fill="#000"/>
<circle cx="525.4" cy="362.4" r="4.0" fill="#000"/>
<circle cx="532.0" cy="353.5" r="4.0" fill="#000"/>
<circle cx="545.2" cy="348.3" r="4.0" fill="#000"/>
<circle cx="565.0" cy="332.8" r="4.0" fill="#000"/>
<circle cx="584.8" cy="327.4" r="4.0" fill="#000"/>
<circle cx="598.0" cy="352.0" r="4.0" fill="#000"/>
<circle cx="611.2" cy="331.3" r="4.0" fill="#000"/>
<circle cx="637.6" cy="349.6" r="4.0" fill="#000"/>
<circle cx="664.0" cy="362.3" r="4.0" fill="#000"/>
<polygon points="543.10,246.60 543.78,248.27 545.57,248.40 544.19,249.56 544.63,251.30 543.10,250.35 541.57,251.30 542.01,249.56 540.63,248.40 542.42,248.27" fill="#000"/>
<polygon points="562.90,246.60 563.58,248.27 565.37,248.40 563.99,249.56 564.43,251.30 562.90,250.35 561.37,251.30 561.81,249.56 560.43,248.40 562.22,248.27" fill="#000"/>
<polygon points="582.60,246.60 583.28,248.27 585.07,248.40 583.69,249.56 584.13,251.30 582.60,250.35 581.07,251.30 581.51,249.56 580.13,248.40 581.92,248.27" fill="#000"/>
<polygon points="595.70,246.60 596.38,248.27 598.17,248.40 596.79,249.56 597.23,251.30 595.70,250.35 594.17,251.30 594.61,249.56 593.23,248.40 595.02,248.27" fill="#000"/>
<polygon points="608.80,246.60 609.48,248.27 611.27,248.40 609.89,249.56 610.33,251.30 608.80,250.35 607.27,251.30 607.71,249.56 606.33,248.40 608.12,248.27" fill="#000"/>
<polygon points="635.10,246.60 635.78,248.27 637.57,248.40 636.19,249.56 636.63,251.30 635.10,250.35 633.57,251.30 634.01,249.56 632.63,248.40 634.42,248.27" fill="#000"/>
<line x1="208.7" y1="475" x2="226.7" y2="475" stroke="#000" stroke-width="3.7"/>
<circle cx="217.7" cy="475" r="5.7" fill="#000"/>
<text x="238.4" y="480.6" font-size="14.6" fill="#000" color="#000">Recovered</text>
<line x1="337.7" y1="475" x2="341.5" y2="475" stroke="#000" stroke-width="3.7"/>
<line x1="352.3" y1="475" x2="355.7" y2="475" stroke="#000" stroke-width="3.7"/>
<rect x="345.2" y="473.2" width="3.6" height="3.6" fill="#000"/>
<circle cx="346.9" cy="475" r="5.3" fill="none" stroke="#000" stroke-width="2.2"/>
<text x="365.7" y="480.6" font-size="14.6" fill="#000" color="#000">Not Recovered</text>
</svg></body></html>
